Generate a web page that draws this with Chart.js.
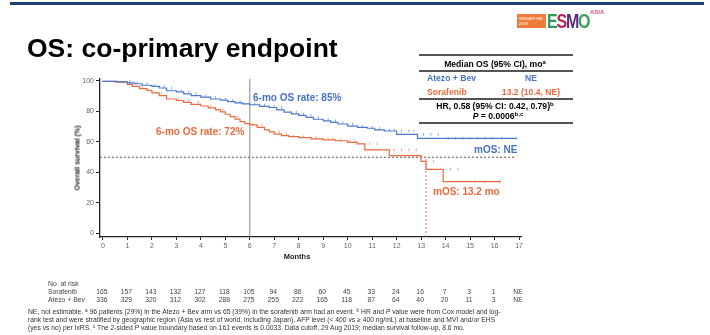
<!DOCTYPE html>
<html>
<head>
<meta charset="utf-8">
<script src="https://cdn.jsdelivr.net/npm/chart.js@4.4.1/dist/chart.umd.min.js"></script>
<style>
  html, body { margin: 0; padding: 0; background: #fff; }
  #page { position: relative; width: 710px; height: 335px; overflow: hidden;
          font-family: "Liberation Sans", Arial, Helvetica, sans-serif; color: #000; }
  #km { position: absolute; left: 0; top: 0; }
  .abs { position: absolute; white-space: nowrap; }
  #topbar { left: 10px; top: 2px; width: 694px; height: 3px; background: #1d3f7e; }
  #title { left: 27px; top: 35px; font-size: 26.5px; line-height: 26px; font-weight: bold; }
  .rule { position: absolute; left: 419px; width: 154px; background: #555; }
  .tb { font-size: 8.6px; line-height: 9px; font-weight: bold; }
  .blue { color: #4472c4; }
  .orange { color: #ec6a3c; }
  .note { font-size: 10px; line-height: 10px; font-weight: bold; }
  .risk { font-size: 6.8px; line-height: 7px; color: #444; }
  #foot { left: 28px; top: 308px; font-size: 6.75px; line-height: 8px; color: #333; }
  sup { font-size: 70%; line-height: 0; vertical-align: 0.45em; }
  #logo-box { left: 517px; top: 14px; width: 29px; height: 14px; background: #f07c3c; color: #fff;
              font-size: 4px; line-height: 5px; padding-left: 2px; box-sizing: border-box; padding-top: 2px; }
  #logo-esmo { left: 547px; top: 11px; font-size: 20px; line-height: 20px; font-weight: bold;
               letter-spacing: -1.5px; transform: scaleX(0.8); transform-origin: left top; }
  #logo-asia { left: 590px; top: 9px; font-size: 6px; line-height: 6px; font-weight: bold; color: #e8506e; }
</style>
</head>
<body>
<div id="page">
  <canvas id="km" width="710" height="335"></canvas>

  <div class="abs" id="topbar"></div>
  <div class="abs" id="title">OS: co-primary endpoint</div>

  <!-- congress logo -->
  <div class="abs" id="logo-box">SINGAPORE<br>2019</div>
  <div class="abs" id="logo-esmo"><span style="color:#2f9a5c">E</span><span style="color:#b3275c">S</span><span style="color:#5a2d82">M</span><span style="color:#3aa05a">O</span></div>
  <div class="abs" id="logo-asia">ASIA</div>

  <!-- median OS summary table -->
  <div class="rule" style="top:54px;height:2px;"></div>
  <div class="abs tb" style="left:495px;top:60px;transform:translateX(-50%);">Median OS (95% CI), mo<sup>a</sup></div>
  <div class="rule" style="top:70px;height:1.5px;"></div>
  <div class="abs tb blue" style="left:427px;top:74px;">Atezo + Bev</div>
  <div class="abs tb blue" style="left:531px;top:74px;transform:translateX(-50%);">NE</div>
  <div class="abs tb orange" style="left:427px;top:88px;">Sorafenib</div>
  <div class="abs tb orange" style="left:531px;top:88px;transform:translateX(-50%);">13.2 (10.4, NE)</div>
  <div class="rule" style="top:98px;height:2px;"></div>
  <div class="abs tb" style="left:495px;top:102px;transform:translateX(-50%);">HR, 0.58 (95% CI: 0.42, 0.79)<sup>b</sup></div>
  <div class="abs tb" style="left:498px;top:111.5px;transform:translateX(-50%);"><i>P</i> = 0.0006<sup>b,c</sup></div>
  <div class="rule" style="top:122px;height:2px;"></div>

  <!-- curve annotations -->
  <div class="abs note blue" style="left:253px;top:93px;">6-mo OS rate: 85%</div>
  <div class="abs note orange" style="left:156px;top:127px;">6-mo OS rate: 72%</div>
  <div class="abs note blue" style="left:474px;top:145px;">mOS: NE</div>
  <div class="abs note orange" style="left:433px;top:187px;">mOS: 13.2 mo</div>

  <!-- axis titles -->
  <div class="abs" style="left:77px;top:158px;font-size:7px;line-height:7px;font-weight:bold;color:#222;transform:translate(-50%,-50%) rotate(-90deg);">Overall survival (%)</div>
  <div class="abs" style="left:297px;top:253px;font-size:7.5px;line-height:8px;font-weight:bold;color:#222;transform:translateX(-50%);">Months</div>

  <!-- number at risk -->
  <div class="abs risk" style="left:48px;top:279.5px;">No. at risk</div>
  <div class="abs risk" style="left:48px;top:287.5px;">Sorafenib</div>
  <div class="abs risk" style="left:48px;top:295.5px;">Atezo + Bev</div>
  <div id="riskRows"></div>

  <div class="abs" id="foot">NE, not estimable. <sup>a</sup> 96 patients (29%) in the Atezo + Bev arm vs 65 (39%) in the sorafenib arm had an event. <sup>b</sup> HR and <i>P</i> value were from Cox model and log-<br>rank test and were stratified by geographic region (Asia vs rest of world, including Japan), AFP level (&lt; 400 vs &#8805; 400 ng/mL) at baseline and MVI and/or EHS<br>(yes vs no) per IxRS. <sup>c</sup> The 2-sided <i>P</i> value boundary based on 161 events is 0.0033. Data cutoff, 29 Aug 2019; median survival follow-up, 8.6 mo.</div>
</div>

<script>
// Kaplan-Meier steps: time (months) and survival (%) after each drop
const atezoMonths = [0, 0.6, 1.0, 1.3, 1.6, 2.0, 2.3, 2.6, 3.0, 3.3, 3.6, 4.0, 4.4, 4.8, 5.1, 5.4, 5.7, 6.0, 6.4, 6.8, 7.1, 7.4, 7.7, 8.0, 8.3, 8.6, 9.0, 9.3, 9.6, 10.0, 10.4, 10.8, 11.1, 11.5, 12.0, 12.85, 13.9, 16.9];
const atezoSurv   = [100, 99.7, 99.4, 98.8, 98.2, 97.2, 96.5, 95.4, 93.6, 92.8, 91.6, 90.4, 89.4, 88.2, 87.4, 86.4, 85.6, 85.0, 84.4, 83.4, 82.6, 81.0, 79.6, 78.4, 77.4, 76.2, 74.9, 73.8, 72.8, 71.8, 70.4, 69.6, 69.0, 68.0, 67.2, 65.0, 62.4, 62.4];

const soraMonths = [0, 0.5, 1.0, 1.2, 1.5, 1.8, 2.0, 2.3, 2.6, 3.0, 3.3, 3.6, 4.0, 4.3, 4.6, 4.8, 5.0, 5.2, 5.4, 5.6, 5.8, 6.0, 6.3, 6.6, 6.8, 7.0, 7.3, 7.6, 8.0, 8.5, 9.0, 9.5, 10.0, 10.4, 10.7, 11.7, 13.0, 13.2, 13.9, 14.8, 16.25];
const soraSurv   = [100, 99.8, 99.2, 97.8, 96.4, 95.0, 93.8, 92.2, 90.4, 88.2, 87.2, 86.0, 84.7, 83.6, 82.4, 81.2, 79.8, 78.2, 76.6, 75.0, 73.4, 72.0, 71.2, 69.6, 68.0, 66.6, 65.2, 64.2, 63.5, 62.9, 62.1, 61.4, 60.8, 59.8, 58.8, 54.8, 51.0, 47.3, 42.1, 34.0, 34.0];

// censoring marks [month, survival %]
const atezoCensored = [[1.1,99.4],[1.4,98.8],[1.8,98.2],[2.1,97.2],[2.5,96.5],[2.8,95.4],[3.2,93.6],[3.5,92.8],[3.8,91.6],[4.2,90.4],[4.6,89.4],[5.0,88.2],[5.3,87.4],[5.6,86.4],[6.2,85.0],[6.6,84.4],[7.0,83.4],[7.3,82.6],[7.9,79.6],[8.2,78.4],[8.5,77.4],[8.8,76.2],[9.2,74.9],[9.5,73.8],[9.8,72.8],[10.2,71.8],[10.6,70.4],[11.0,69.6],[11.3,69.0],[11.7,68.0],[11.9,68.0],[12.2,67.2],[12.5,67.2],[12.7,67.2],[13.1,65.0],[13.4,65.0],[13.7,65.0],[14.1,62.4],[14.4,62.4],[14.7,62.4],[15.0,62.4],[15.3,62.4],[15.6,62.4],[15.9,62.4],[16.3,62.4],[16.9,62.4]];
const soraCensored = [[1.1,99.2],[1.6,96.4],[2.4,92.2],[3.1,88.2],[3.5,87.2],[3.9,86.0],[4.4,83.6],[4.9,81.2],[5.5,76.6],[6.1,72.0],[6.5,71.2],[7.2,66.6],[7.5,65.2],[7.8,64.2],[8.2,63.5],[8.7,62.9],[9.2,62.1],[9.4,62.1],[9.7,61.4],[10.1,60.8],[10.3,60.8],[10.9,58.8],[11.2,58.8],[11.9,54.8],[12.2,54.8],[12.5,54.8],[12.8,54.8],[13.5,47.3],[14.2,42.1],[14.5,42.1],[15.2,34.0],[15.6,34.0],[16.2,34.0]];

// reference markers
const landmarkMonth = 6;
const medianLevel = 50;
const soraMedian = 13.2;

// axis ticks
const monthTicks = [0,1,2,3,4,5,6,7,8,9,10,11,12,13,14,15,16,17];
const survTicks = [0,20,40,60,80,100];

// number at risk under the time axis
const riskMonths = [0,1,2,3,4,5,6,7,8,9,10,11,12,13,14,15,16,17];
const soraRisk  = ['165','157','143','132','127','118','105','94','86','60','45','33','24','16','7','3','1','NE'];
const atezoRisk = ['336','329','320','312','302','288','275','255','222','165','118','87','64','40','20','11','3','NE'];

const BLUE = '#4a78cf';
const ORANGE = '#ec6a3c';
const X_MIN = -0.12, X_MAX = 17.1, Y_MIN = -2.3, Y_MAX = 101.3;

const pairs = (xs, ys) => xs.map((x, i) => ({ x: x, y: ys[i] }));
const pts = arr => arr.map(p => ({ x: p[0], y: p[1] }));

const chart = new Chart(document.getElementById('km'), {
  type: 'line',
  data: {
    datasets: [
      { label: 'Atezo + Bev', data: pairs(atezoMonths, atezoSurv), stepped: 'after',
        borderColor: BLUE, borderWidth: 1.2, pointRadius: 0, fill: false },
      { label: 'Sorafenib', data: pairs(soraMonths, soraSurv), stepped: 'after',
        borderColor: ORANGE, borderWidth: 1.2, pointRadius: 0, fill: false },
      { type: 'scatter', label: 'Atezo + Bev censored', data: pts(atezoCensored), showLine: false,
        pointStyle: 'line', rotation: 90, pointRadius: 1.3, borderColor: 'rgba(74,120,207,0.8)', borderWidth: 0.8 },
      { type: 'scatter', label: 'Sorafenib censored', data: pts(soraCensored), showLine: false,
        pointStyle: 'line', rotation: 90, pointRadius: 1.3, borderColor: 'rgba(236,106,60,0.8)', borderWidth: 0.8 },
      { label: 'median', data: [{ x: X_MIN, y: medianLevel }, { x: 16.85, y: medianLevel }],
        borderColor: '#444', borderWidth: 0.9, borderDash: [2, 2], pointRadius: 0 },
      { label: 'landmark', data: [{ x: landmarkMonth, y: Y_MIN }, { x: landmarkMonth, y: Y_MAX }],
        borderColor: '#8a8a8a', borderWidth: 1, pointRadius: 0 },
      { label: 'sorafenib median', data: [{ x: soraMedian, y: Y_MIN }, { x: soraMedian, y: medianLevel }],
        borderColor: ORANGE, borderWidth: 0.9, borderDash: [2, 2], pointRadius: 0 }
    ]
  },
  options: {
    responsive: false,
    animation: false,
    devicePixelRatio: 1,
    layout: { padding: { left: 0, top: 79, right: 188.5, bottom: 0 } },
    plugins: { legend: { display: false }, tooltip: { enabled: false } },
    scales: {
      x: {
        type: 'linear', min: X_MIN, max: X_MAX,
        afterBuildTicks: s => { s.ticks = monthTicks.map(v => ({ value: v })); },
        afterFit: s => { s.height = 98; },
        ticks: { autoSkip: false, maxRotation: 0, padding: 2, color: '#666',
                 font: { family: 'Liberation Sans', size: 7 } },
        grid: { drawOnChartArea: false, drawTicks: true, tickLength: 3, color: '#222', lineWidth: 1 },
        border: { display: true, color: '#222', width: 1.3 }
      },
      y: {
        type: 'linear', min: Y_MIN, max: Y_MAX,
        afterBuildTicks: s => { s.ticks = survTicks.map(v => ({ value: v })); },
        afterFit: s => { s.width = 100; },
        ticks: { padding: 2, color: '#666', font: { family: 'Liberation Sans', size: 7 } },
        grid: { drawOnChartArea: false, drawTicks: true, tickLength: 4, color: '#222', lineWidth: 1 },
        border: { display: true, color: '#222', width: 1.3 }
      }
    }
  }
});

// place the number-at-risk columns under their month ticks
const xScale = chart.scales.x;
const rows = document.getElementById('riskRows');
riskMonths.forEach((m, i) => {
  const left = xScale.getPixelForValue(m) - 1;
  [[soraRisk[i], 287.5], [atezoRisk[i], 295.5]].forEach(([txt, top]) => {
    const d = document.createElement('div');
    d.className = 'abs risk';
    d.style.left = left + 'px';
    d.style.top = top + 'px';
    d.style.transform = 'translateX(-50%)';
    d.textContent = txt;
    rows.appendChild(d);
  });
});
</script>
</body>
</html>
